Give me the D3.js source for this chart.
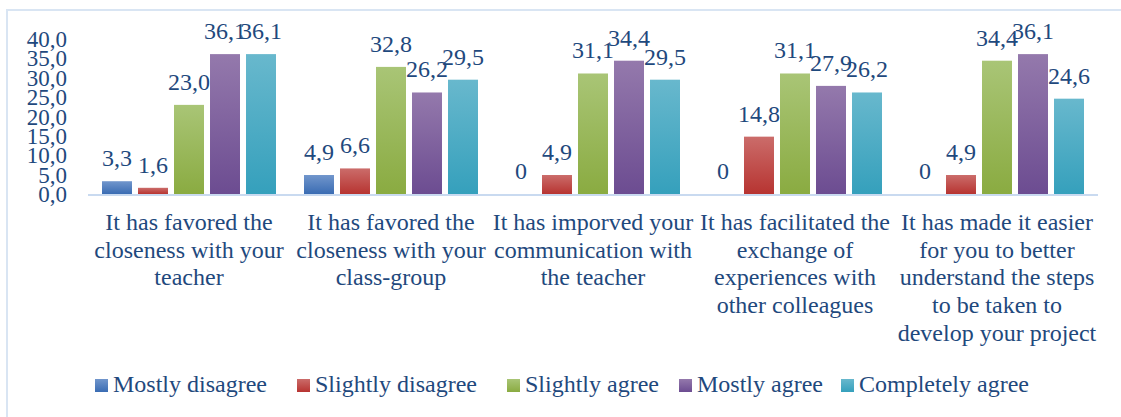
<!DOCTYPE html>
<html>
<head>
<meta charset="utf-8">
<script src="https://cdn.jsdelivr.net/npm/d3@7"></script>
<style>
  html, body { margin: 0; padding: 0; background: #fff; }
  svg { display: block; }
  text { font-family: "Liberation Serif", "Times New Roman", serif; fill: #1F497D; }
</style>
</head>
<body>
<svg id="chart" width="1121" height="417"></svg>
<script>
// ---- data ----
const categories = [
  "It has favored the closeness with your teacher",
  "It has favored the closeness with your class-group",
  "It has imporved your communication with the teacher",
  "It has facilitated the exchange of experiences with other colleagues",
  "It has made it easier for you to better understand the steps to be taken to develop your project"
];
const categoryLines = [
  ["It has favored the", "closeness with your", "teacher"],
  ["It has favored the", "closeness with your", "class-group"],
  ["It has imporved your", "communication with", "the teacher"],
  ["It has facilitated the", "exchange of", "experiences with", "other colleagues"],
  ["It has made it easier", "for you to better", "understand the steps", "to be taken to", "develop your project"]
];
const seriesNames = ["Mostly disagree", "Slightly disagree", "Slightly agree", "Mostly agree", "Completely agree"];
const mostlyDisagree   = [3.3, 4.9, 0, 0, 0];
const slightlyDisagree = [1.6, 6.6, 4.9, 14.8, 4.9];
const slightlyAgree    = [23.0, 32.8, 31.1, 31.1, 34.4];
const mostlyAgree      = [36.1, 26.2, 34.4, 27.9, 36.1];
const completelyAgree  = [36.1, 29.5, 29.5, 26.2, 24.6];
const dataLabels = [
  ["3,3", "4,9", "0", "0", "0"],
  ["1,6", "6,6", "4,9", "14,8", "4,9"],
  ["23,0", "32,8", "31,1", "31,1", "34,4"],
  ["36,1", "26,2", "34,4", "27,9", "36,1"],
  ["36,1", "29,5", "29,5", "26,2", "24,6"]
];
const yTicks = [0, 5, 10, 15, 20, 25, 30, 35, 40];
const yTickLabels = ["0,0", "5,0", "10,0", "15,0", "20,0", "25,0", "30,0", "35,0", "40,0"];
const seriesValues = [mostlyDisagree, slightlyDisagree, slightlyAgree, mostlyAgree, completelyAgree];
const gradTop    = ["#7196cc", "#cb6c6a", "#a9c576", "#9479ac", "#68b8cd"];
const gradBottom = ["#3a6cb3", "#b73431", "#8aab41", "#6c4c91", "#35a0bc"];

// ---- layout ----
const svg = d3.select("#chart");
const x0Left = 88, x0Right = 1098, yBase = 194, yTop = 39;
const legendX = [95, 297, 507, 679, 841];

// frame border
svg.append("rect")
  .attr("x", 7).attr("y", 10).attr("width", 1130).attr("height", 420)
  .attr("fill", "none").attr("stroke", "#d9e5f3").attr("stroke-width", 2);

const defs = svg.append("defs");
seriesNames.forEach((s, i) => {
  const g = defs.append("linearGradient").attr("id", "g" + i)
    .attr("x1", 0).attr("y1", 0).attr("x2", 0).attr("y2", 1);
  g.append("stop").attr("offset", "0%").attr("stop-color", gradTop[i]);
  g.append("stop").attr("offset", "100%").attr("stop-color", gradBottom[i]);
});

const x0 = d3.scaleBand().domain(d3.range(categories.length)).range([x0Left, x0Right]).padding(0);
const x1 = d3.scaleBand().domain(d3.range(seriesNames.length)).range([0, x0.bandwidth()])
  .paddingInner(0.167).paddingOuter(0.389);
const y = d3.scaleLinear().domain([0, 40]).range([yBase, yTop]);

// y axis labels
const yAxis = d3.axisLeft(y).tickValues(yTicks).tickFormat((d, i) => yTickLabels[i]).tickSize(0).tickPadding(0);
const yg = svg.append("g").attr("transform", "translate(67,0)").call(yAxis);
yg.select(".domain").remove();
yg.selectAll("text").attr("fill", "#1F497D").style("font-size", "23px")
  .style("font-family", '"Liberation Serif", "Times New Roman", serif').attr("dy", "0.33em");

// bars
const groups = svg.append("g").selectAll("g").data(seriesNames).join("g")
  .attr("fill", (d, i) => "url(#g" + i + ")");
groups.each(function(s, si) {
  const g = d3.select(this);
  g.selectAll("rect").data(seriesValues[si]).join("rect")
    .attr("x", (v, ci) => x0(ci) + x1(si))
    .attr("y", v => y(v))
    .attr("width", x1.bandwidth())
    .attr("height", v => yBase - y(v));
});

// x axis line
svg.append("line").attr("x1", x0Left).attr("x2", x0Right).attr("y1", yBase + 1).attr("y2", yBase + 1)
  .attr("stroke", "#c9daf0").attr("stroke-width", 2);

// data labels
seriesNames.forEach((s, si) => {
  svg.append("g").selectAll("text").data(seriesValues[si]).join("text")
    .attr("x", (v, ci) => x0(ci) + x1(si) + x1.bandwidth() / 2)
    .attr("y", v => y(v) - 15)
    .attr("text-anchor", "middle")
    .style("font-size", "24px")
    .text((v, ci) => dataLabels[si][ci]);
});

// category labels
categoryLines.forEach((lines, ci) => {
  const t = svg.append("text")
    .attr("text-anchor", "middle")
    .style("font-size", "24px");
  lines.forEach((ln, li) => {
    t.append("tspan")
      .attr("x", x0(ci) + x0.bandwidth() / 2)
      .attr("y", 230 + li * 27.7)
      .text(ln);
  });
});

// legend
const legend = svg.append("g");
seriesNames.forEach((s, i) => {
  const it = legend.append("g").attr("transform", "translate(" + legendX[i] + ",0)");
  it.append("rect").attr("x", 0).attr("y", 379).attr("width", 13).attr("height", 13)
    .attr("fill", "url(#g" + i + ")");
  it.append("text").attr("x", 18).attr("y", 392).style("font-size", "24px").text(s);
});
</script>
</body>
</html>
